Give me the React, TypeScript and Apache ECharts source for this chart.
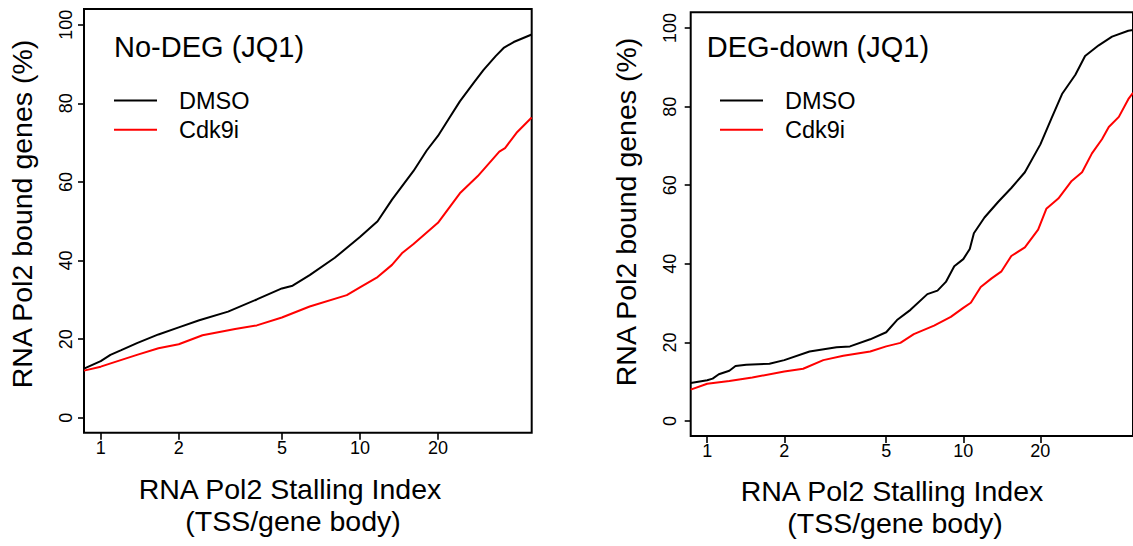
import React, { useEffect, useRef } from "react";
import * as echarts from "echarts";

// ---- data ----
const X_MIN = 0.862;
const X_MAX = 46;
const Y_MIN = -3.8;
const Y_MAX = 104;
const X_TICKS = [1, 2, 5, 10, 20];
const Y_TICKS = [0, 20, 40, 60, 80, 100];
const SERIES_NAMES = ["DMSO", "Cdk9i"];
const PANEL_TITLES = ["No-DEG (JQ1)", "DEG-down (JQ1)"];
const X_TITLE = ["RNA Pol2 Stalling Index", "(TSS/gene body)"];
const Y_TITLE = "RNA Pol2 bound genes (%)";

// Panel 1: No-DEG (JQ1)  [stalling index, % of bound genes]
const noDegDmso: [number, number][] = [
  [0.862, 12.5], [1, 14.4], [1.09, 16.0], [1.2, 17.2], [1.38, 19.0], [1.67, 21.2],
  [2, 23.0], [2.4, 24.8], [3.1, 27.0], [4, 30.1], [5, 32.9], [5.5, 33.6],
  [6.4, 36.3], [8, 40.7], [10, 46.0], [11.7, 50.0], [13.3, 55.5], [16.1, 62.8],
  [18.1, 68.0], [20, 71.7], [22, 76.0], [24.3, 80.5], [27.6, 85.4], [30, 88.5],
  [33.4, 92.0], [36, 94.2], [39.2, 95.6], [46, 97.5],
];
const noDegCdk9i: [number, number][] = [
  [0.862, 12.0], [1, 13.0], [1.1, 13.9], [1.38, 16.0], [1.67, 17.7], [2, 18.7],
  [2.47, 21.0], [3.3, 22.6], [4, 23.5], [5, 25.5], [6.4, 28.3], [8.9, 31.2],
  [10, 33.2], [11.7, 35.8], [13.3, 38.9], [14.6, 42.0], [16.1, 44.2], [20, 49.6],
  [24.3, 57.1], [28.5, 61.5], [34.5, 67.7], [36.3, 68.6], [40.2, 72.5], [46, 76.4],
];

// Panel 2: DEG-down (JQ1)
const degDownDmso: [number, number][] = [
  [0.862, 9.7], [1, 10.4], [1.05, 10.8], [1.11, 11.9], [1.22, 12.8], [1.29, 14.0],
  [1.42, 14.3], [1.75, 14.6], [2, 15.5], [2.51, 17.7], [3.2, 18.8], [3.61, 19.0],
  [4.33, 20.8], [5, 22.6], [5.51, 25.7], [6.22, 28.3], [7.24, 32.3], [7.93, 33.2],
  [8.55, 35.4], [9.22, 39.4], [10, 41.2], [10.6, 43.8], [11, 47.8], [12.1, 51.8],
  [13.7, 55.8], [15.4, 59.3], [17.4, 63.3], [20, 70.4], [22.1, 77.0], [24.3, 83.2],
  [27.4, 88.1], [29.9, 92.9], [33.8, 95.6], [38.1, 97.8], [44.1, 99.3], [46, 99.5],
];
const degDownCdk9i: [number, number][] = [
  [0.862, 8.0], [1, 9.5], [1.22, 10.2], [1.5, 11.1], [2, 12.6], [2.37, 13.3],
  [2.84, 15.5], [3.4, 16.6], [4.33, 17.7], [5, 19.0], [5.68, 19.9], [6.41, 22.1],
  [7.69, 24.3], [8.94, 26.5], [10, 28.8], [10.7, 30.1], [11.7, 34.1], [12.9, 36.3],
  [14.1, 38.1], [15.4, 42.0], [17.4, 44.2], [19.6, 48.7], [21.1, 54.0], [23.5, 56.6],
  [26.5, 61.1], [29.1, 63.3], [31.8, 68.1], [34.8, 71.7], [37, 74.8], [40.5, 77.4],
  [44.1, 81.9], [46, 83.5],
];

const FONT = "'Liberation Sans', Arial, Helvetica, sans-serif";
const COLORS = ["#000000", "#ff0000"];

const PANELS = [
  { left: 84, top: 9, width: 447.7, height: 423.7, data: [noDegDmso, noDegCdk9i],
    xLabelMargin: 6.5, yLabelMargin: 9.5, titleX: 114, titleY: 56.7, legendX: 114,
    xTitleX: 290, xTitleY: 499, yTitleX: 22, yTitleY: 214 },
  { left: 690.7, top: 12.3, width: 446.5, height: 423.7, data: [degDownDmso, degDownCdk9i],
    xLabelMargin: 6, yLabelMargin: 12, titleX: 706.7, titleY: 56.7, legendX: 720,
    xTitleX: 892, xTitleY: 500.7, yTitleX: 626, yTitleY: 212 },
];

// the x axis is a log10 scale: the axis works in log10(stalling index)
const lg = (v: number) => Math.log10(v);

function buildOption() {
  const grid: any[] = [];
  const xAxis: any[] = [];
  const yAxis: any[] = [];
  const series: any[] = [];
  const legend: any[] = [];
  const graphic: any[] = [];

  PANELS.forEach((p, i) => {
    grid.push({
      left: p.left, top: p.top, width: p.width, height: p.height,
      show: true, borderColor: "#000", borderWidth: 2, backgroundColor: "transparent",
      containLabel: false,
    });
    xAxis.push({
      type: "value", gridIndex: i, position: "bottom",
      min: lg(X_MIN), max: lg(X_MAX),
      axisLine: { show: false, onZero: false },
      axisTick: {
        show: true, inside: false, length: 7,
        lineStyle: { color: "#000", width: 1.6 },
        customValues: X_TICKS.map(lg),
      },
      axisLabel: { show: false },
      splitLine: { show: false },
    });
    yAxis.push({
      type: "value", gridIndex: i, min: Y_MIN, max: Y_MAX, position: "left",
      axisLine: { show: false, onZero: false },
      axisTick: {
        show: true, inside: false, length: 6,
        lineStyle: { color: "#000", width: 1.6 },
        customValues: Y_TICKS,
      },
      axisLabel: {
        show: true, rotate: 90, margin: p.yLabelMargin, fontSize: 18, color: "#000",
        fontFamily: FONT, customValues: Y_TICKS, hideOverlap: false,
        showMinLabel: true, showMaxLabel: true,
      },
      splitLine: { show: false },
    });
    p.data.forEach((d, k) => {
      series.push({
        type: "line", name: SERIES_NAMES[k], xAxisIndex: i, yAxisIndex: i,
        data: d.map(([x, y]) => [lg(x), y]),
        showSymbol: false, symbol: "none", smooth: false, clip: false,
        lineStyle: { color: COLORS[k], width: 2 }, itemStyle: { color: COLORS[k] },
      });
    });
    legend.push({
      left: p.legendX, top: 88.5, orient: "vertical", data: SERIES_NAMES,
      icon: "rect", itemWidth: 43, itemHeight: 2, itemGap: 5.3, selectedMode: false,
      padding: 0,
      textStyle: { fontSize: 23.5, color: "#000", fontFamily: FONT, padding: [0, 0, 0, 17] },
    });
    graphic.push({
      id: `title-${i}`, type: "text", x: p.titleX, y: p.titleY - 0.347 * 29,
      style: { text: PANEL_TITLES[i], fontSize: 29, fill: "#000", fontFamily: FONT,
        textAlign: "left", textVerticalAlign: "middle" },
    });
    graphic.push({
      id: `xt1-${i}`, type: "text", x: p.xTitleX, y: p.xTitleY - 0.347 * 28.5,
      style: { text: X_TITLE[0], fontSize: 28.5, fill: "#000", fontFamily: FONT,
        textAlign: "center", textVerticalAlign: "middle" },
    });
    graphic.push({
      id: `xt2-${i}`, type: "text", x: p.xTitleX + 3, y: p.xTitleY + 32 - 0.347 * 28.5,
      style: { text: X_TITLE[1], fontSize: 28.5, fill: "#000", fontFamily: FONT,
        textAlign: "center", textVerticalAlign: "middle" },
    });
    graphic.push({
      id: `yt-${i}`, type: "text", x: p.yTitleX, y: p.yTitleY, rotation: Math.PI / 2,
      style: { text: Y_TITLE, fontSize: 28.5, fill: "#000", fontFamily: FONT,
        textAlign: "center", textVerticalAlign: "middle" },
    });
  });

  return {
    animation: false,
    backgroundColor: "#fff",
    grid, xAxis, yAxis, series, legend, graphic,
  };
}

// x tick labels placed through the axes' own scale (convertToPixel)
function tickLabelGraphics(chart: any) {
  const out: any[] = [];
  PANELS.forEach((p, i) => {
    const bottom = chart.convertToPixel({ yAxisIndex: i }, Y_MIN);
    X_TICKS.forEach((t, j) => {
      const px = chart.convertToPixel({ xAxisIndex: i }, lg(t));
      if (typeof px !== "number" || typeof bottom !== "number") return;
      out.push({
        id: `xtick-${i}-${j}`, type: "text", x: px, y: bottom + p.xLabelMargin,
        z: 100, zlevel: 0,
        style: { text: String(t), fontSize: 18, fill: "#000", fontFamily: FONT,
          textAlign: "center", textVerticalAlign: "top" },
      });
    });
  });
  return out;
}

export default function App() {
  const ref = useRef<HTMLDivElement>(null);
  useEffect(() => {
    if (!ref.current) return;
    const chart = echarts.init(ref.current, undefined, { renderer: "svg" });
    const option: any = buildOption();
    chart.setOption(option);
    try {
      const labels = tickLabelGraphics(chart);
      chart.setOption({ graphic: [...option.graphic, ...labels] } as any);
    } catch (e) {
      // keep the chart as is
    }
    return () => chart.dispose();
  }, []);
  return (
    <div
      ref={ref}
      style={{ position: "absolute", left: 0, top: 0, width: 1133, height: 546, overflow: "hidden" }}
    />
  );
}
